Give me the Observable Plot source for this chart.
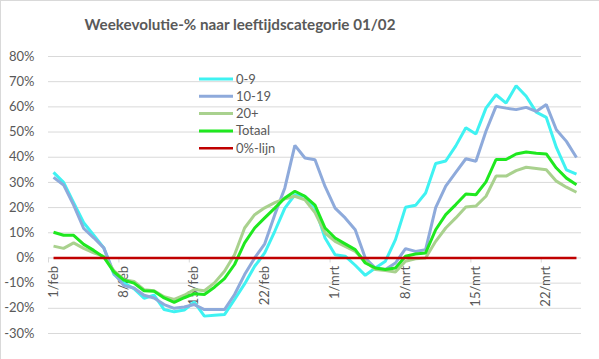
<!DOCTYPE html>
<html>
<head>
<meta charset="utf-8">
<script src="https://cdn.jsdelivr.net/npm/d3@7"></script>
<script src="https://cdn.jsdelivr.net/npm/@observablehq/plot@0.6"></script>
<style>
  html, body { margin: 0; padding: 0; background: #fff; }
  #wrap { position: relative; width: 599px; height: 359px; overflow: hidden;
          border-left: 1px solid #d9d9d9; border-top: 1px solid #d9d9d9; box-sizing: border-box; }
  #title { position: absolute; left: 0; width: 478px; top: 14px; text-align: center;
           font: bold 15.2px Lato, "Open Sans", sans-serif; color: #595959; }
  #chart { position: absolute; left: -1px; top: -1px; }
</style>
</head>
<body>
<div id="wrap">
  <div id="chart"></div>
  <div id="title">Weekevolutie-% naar leeftijdscategorie 01/02</div>
</div>
<script>
// day index 0 = 1/feb ... 52 = 25/mrt
const series0_9 = [34, 30, 22, 14, 9, 4, -6.5, -10, -12.2, -16, -14.8, -20.5, -21.4, -20.7, -17.5, -23.1, -22.8, -22.5, -16.5, -10.3, -3.3, 2, 10.6, 19.8, 25.1, 24.5, 20, 7.9, 1.3, 0.7, -2.9, -6.9, -4, -1.3, 7.3, 20.1, 20.9, 25.8, 37.5, 38.5, 44.5, 51.7, 49.2, 59.5, 64.8, 61.5, 68.4, 64.2, 57.9, 55.8, 43.9, 35, 33.3];
const series10_19 = [32, 29, 21, 11.7, 8, 4, -6, -11, -11.9, -14.8, -15.9, -18.5, -20, -19.5, -18.5, -20.5, -20.5, -20.5, -14.5, -6.6, 0, 5.6, 17.2, 27.8, 44.7, 39.7, 39, 28.4, 19.8, 15.9, 11.2, 0, -4, -4.6, -2, 3.7, 2.6, 3.3, 20, 28.5, 34, 39.4, 38.4, 50.3, 60.2, 59.5, 58.9, 59.8, 58.2, 60.9, 50.9, 46.3, 39.9];
const series20plus = [4.7, 3.8, 6, 3.8, 2, 0.6, -5, -8.6, -9.3, -12.6, -13, -15.4, -16.5, -14.8, -12.5, -13, -9.9, -5.3, 1.3, 11.9, 17.2, 19.9, 22, 23.5, 24.5, 23.1, 18, 9.9, 6.6, 4.6, 2.6, -1.3, -4.6, -5, -5.6, -1.3, -0.3, 0, 6.6, 11.9, 15.9, 20.2, 20.6, 24.5, 32.5, 32.5, 34.7, 36, 35.5, 35, 30.5, 28.1, 26.1];
const seriesTotaal = [10.2, 9, 9, 5.4, 3, 0.3, -5.5, -8.8, -10, -13, -13.2, -15.9, -17.6, -15.8, -14.2, -14.5, -11.6, -8.2, -2.6, 6, 11.9, 15.9, 19.8, 23.8, 26.5, 24.5, 21, 11.9, 7.9, 5.6, 3.3, -2, -4, -4.6, -4, 0.7, 1.6, 2, 11.2, 17.2, 21.2, 25.4, 25.1, 30.2, 39.1, 39.1, 41.3, 42.1, 41.6, 41.3, 35.7, 31.7, 29.1];
const series0line = new Array(53).fill(0);

const seriesNames = ["0-9", "10-19", "20+", "Totaal", "0%-lijn"];
const seriesColors = ["#3ff2f2", "#8eaadb", "#a9d18e", "#1fe81f", "#c00000"];

const xTickDays = [0, 7, 14, 21, 28, 35, 42, 49];
const xTickLabels = ["1/feb", "8/feb", "15/feb", "22/feb", "1/mrt", "8/mrt", "15/mrt", "22/mrt"];
const yTicks = [-30, -20, -10, 0, 10, 20, 30, 40, 50, 60, 70, 80];

const allSeries = [series0_9, series10_19, series20plus, seriesTotaal, series0line];
const rows = [];
allSeries.forEach((arr, s) => arr.forEach((v, i) => rows.push({series: seriesNames[s], day: i, value: v})));
const tickRows = xTickDays.map((d, i) => ({day: d, label: xTickLabels[i]}));
const boundaryRows = xTickDays.map(d => ({b: d - 0.5}));

const font = "Lato, 'Open Sans', sans-serif";
const txt = "#595959";

const lineMarks = seriesNames.map((name, s) =>
  Plot.line(rows.filter(r => r.series === name), {
    x: "day", y: "value", stroke: seriesColors[s],
    strokeWidth: name === "0%-lijn" ? 2.6 : 3, strokeLinejoin: "miter", strokeLinecap: "butt"
  })
);

const chart = Plot.plot({
  width: 599,
  height: 359,
  marginLeft: 48,
  marginRight: 18,
  marginTop: 56,
  marginBottom: 26,
  style: {fontFamily: font, fontSize: "13px", color: txt, background: "#fff"},
  x: {domain: [-0.5, 52.5], axis: null},
  y: {domain: [-30, 80], ticks: yTicks, tickFormat: d => d + "%", tickSize: 0, tickPadding: 14, label: null},
  marks: [
    Plot.ruleY(yTicks, {stroke: "#d9d9d9", strokeWidth: 1}),
    Plot.ruleX(boundaryRows, {x: "b", y1: 0, y2: -2, stroke: "#d9d9d9"}),
    Plot.text(tickRows, {x: "day", y: 0, text: "label", rotate: -90, textAnchor: "end", dy: 8, fill: txt, fontSize: 13}),
    ...lineMarks
  ]
});

// legend
const svg = d3.select(chart);
const leg = svg.append("g").attr("font-family", font).attr("font-size", 13).attr("fill", txt).attr("text-anchor", "start");
seriesNames.forEach((name, i) => {
  const y = 79 + i * 17.3;
  leg.append("line").attr("x1", 199).attr("x2", 233).attr("y1", y).attr("y2", y)
    .attr("stroke", seriesColors[i]).attr("stroke-width", name === "0%-lijn" ? 2.6 : 3);
  leg.append("text").attr("x", 236).attr("y", y).attr("dy", "0.35em").attr("text-anchor", "start").text(name);
});

document.getElementById("chart").appendChild(chart);
</script>
</body>
</html>
